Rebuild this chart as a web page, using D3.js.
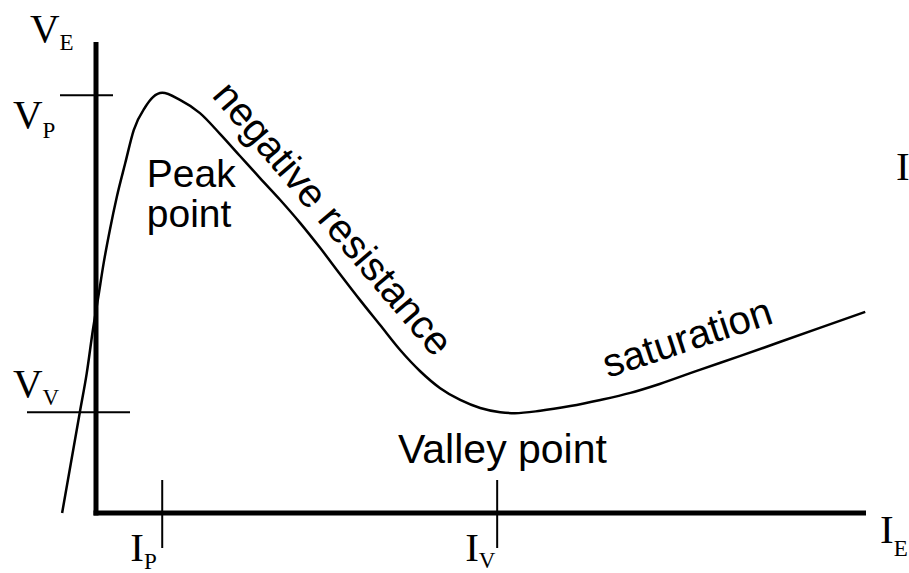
<!DOCTYPE html>
<html>
<head>
<meta charset="utf-8">
<script src="https://cdn.jsdelivr.net/npm/d3@7"></script>
<style>
    body { margin: 0; background: #ffffff; }
    svg { display: block; }
</style>
</head>
<body>
<div id="chart"></div>
<script>
// UJT characteristic, values (arbitrary units 0..10)
var currentIE = [-0.44, -0.21, -0.12, -0.04, 0.03, 0.10, 0.18, 0.27, 0.38, 0.49,
                 0.64, 0.74, 0.86, 1.09, 1.35, 1.61, 1.87, 2.13, 2.39, 2.65,
                 2.91, 3.17, 3.43, 3.69, 3.95, 4.21, 4.47, 4.73, 4.99, 5.25,
                 5.44, 5.77, 6.16, 6.55, 6.94, 7.32, 7.84, 8.36, 8.88, 9.40, 9.99]
var voltageVE = [0.00, 2.14, 2.97, 3.89, 4.59, 5.31, 6.01, 6.71, 7.43, 8.13,
                 8.62, 8.83, 8.92, 8.77, 8.49, 8.05, 7.58, 7.11, 6.65, 6.16,
                 5.63, 5.07, 4.52, 3.99, 3.46, 3.01, 2.65, 2.40, 2.23, 2.14,
                 2.12, 2.17, 2.27, 2.40, 2.55, 2.74, 3.04, 3.33, 3.63, 3.93, 4.27]

// peak and valley ticks
var tickNamesX = ["P", "V"]
var tickValuesX = [0.86, 5.21]
var tickNamesY = ["P", "V"]
var tickValuesY = [8.87, 2.14]

// region labels
var regionNames = ["negative resistance", "saturation", "Valley point"]

window.onload = function(){
    var width = 909,
        height = 573;

    var svg = d3.select("#chart")
                .append("svg")
                .attr("width", width)
                .attr("height", height);

    var x = d3.scaleLinear().domain([0, 10]).range([96, 866]);
    var y = d3.scaleLinear().domain([0, 10]).range([513, 42]);

    var serif = "'Liberation Serif', 'Times New Roman', serif";
    var sans = "'Liberation Sans', Arial, Helvetica, sans-serif";

    // axes as two heavy lines
    svg.append("line")
        .attr("x1", x(0)).attr("y1", y(0) + 2.5)
        .attr("x2", x(0)).attr("y2", y(10))
        .style("stroke", "black").style("stroke-width", 5);
    svg.append("line")
        .attr("x1", x(0) - 2.5).attr("y1", y(0))
        .attr("x2", x(10)).attr("y2", y(0))
        .style("stroke", "black").style("stroke-width", 5);

    // tick marks, each has its own reach left/right or up/down
    var yTickReach = [[-36, 17], [-69, 34]];
    tickValuesY.forEach(function(v, i){
        svg.append("line")
            .attr("x1", x(0) + yTickReach[i][0]).attr("x2", x(0) + yTickReach[i][1])
            .attr("y1", y(v)).attr("y2", y(v))
            .style("stroke", "black").style("stroke-width", 2);
    });
    tickValuesX.forEach(function(v){
        svg.append("line")
            .attr("x1", x(v)).attr("x2", x(v))
            .attr("y1", y(0) - 33).attr("y2", y(0) + 35)
            .style("stroke", "black").style("stroke-width", 2);
    });

    // letter + subscript helper
    function symbol(px, py, main, sub, dx, dy){
        var t = svg.append("text")
            .attr("x", px).attr("y", py)
            .style("font-family", serif)
            .style("font-size", "41px")
            .style("fill", "black");
        t.append("tspan").text(main);
        t.append("tspan")
            .attr("dx", dx).attr("dy", dy)
            .style("font-size", "23px")
            .text(sub);
    }

    symbol(x(0) - 66, y(10), "V", "E", 0, 8);
    symbol(x(0) - 83, y(tickValuesY[0]) + 33, "V", tickNamesY[0], 0, 10);
    symbol(x(0) - 83, y(tickValuesY[1]) - 15, "V", tickNamesY[1], 0, 8);
    symbol(x(tickValuesX[0]) - 32, y(0) + 48, "I", tickNamesX[0], 0, 8);
    symbol(x(tickValuesX[1]) - 32, y(0) + 48, "I", tickNamesX[1], 0, 7);
    symbol(x(10) + 14, y(0) + 30, "I", "E", 0, 13);

    // stray letter at the right edge of the picture
    svg.append("text")
        .attr("x", 896).attr("y", 180)
        .style("font-family", serif)
        .style("font-size", "41px")
        .text("I");

    // the curve
    var points = currentIE.map(function(d, i){ return [d, voltageVE[i]]; });
    var line = d3.line()
                .x(function(d){ return x(d[0]); })
                .y(function(d){ return y(d[1]); })
                .curve(d3.curveMonotoneX);

    svg.append("path")
        .datum(points)
        .attr("d", line)
        .style("fill", "none")
        .style("stroke", "black")
        .style("stroke-width", 2.5);

    // Peak point, two lines
    var peak = svg.append("text")
        .attr("x", x(0.66)).attr("y", 187)
        .style("font-family", sans)
        .style("font-size", "39px")
        .style("fill", "black");
    peak.append("tspan").text("Peak");
    peak.append("tspan").attr("x", x(0.66)).attr("dy", 40).text("point");

    // rotated region labels
    svg.append("text")
        .attr("transform", "translate(211,96) rotate(49.6)")
        .style("font-family", sans)
        .style("font-size", "40px")
        .text(regionNames[0]);

    svg.append("text")
        .attr("transform", "translate(608,378) rotate(-18.3)")
        .style("font-family", sans)
        .style("font-size", "40px")
        .text(regionNames[1]);

    svg.append("text")
        .attr("x", 398).attr("y", 463)
        .style("font-family", sans)
        .style("font-size", "41px")
        .text(regionNames[2]);
};
</script>
</body>
</html>
